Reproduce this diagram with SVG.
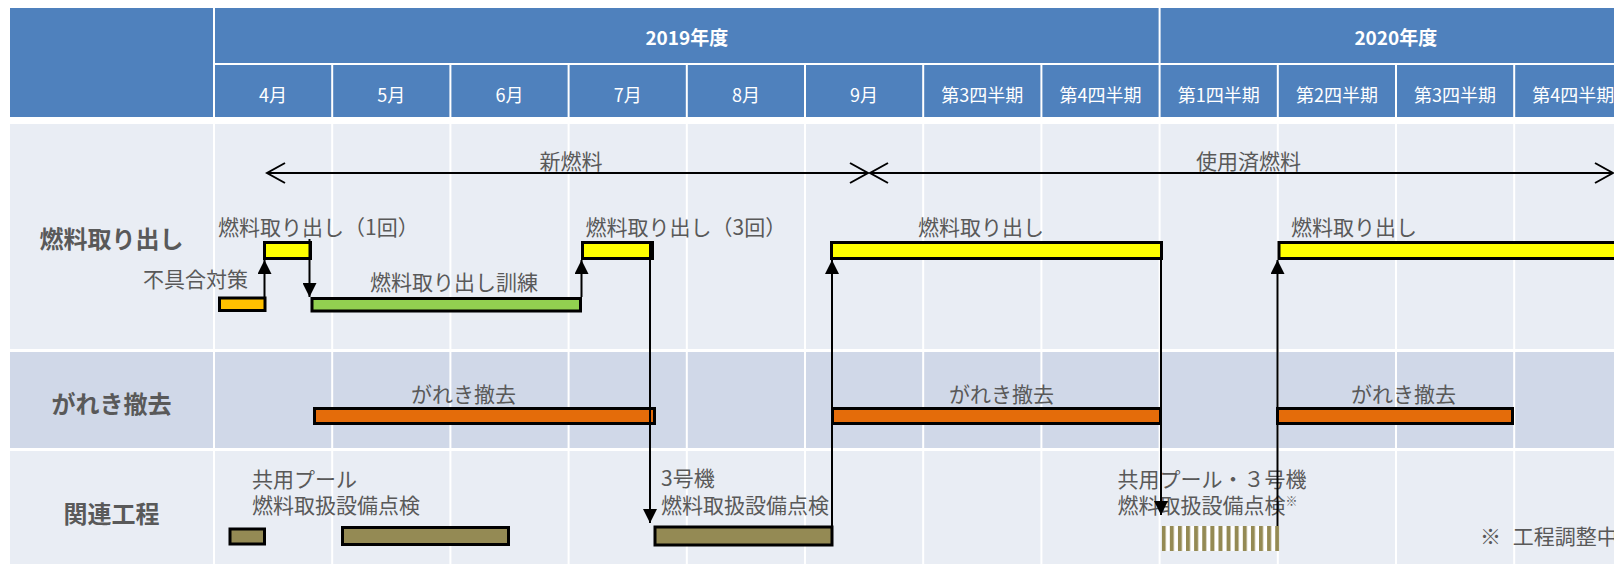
<svg xmlns="http://www.w3.org/2000/svg" width="1614" height="564" viewBox="0 0 1614 564">
<defs>
<style>
text{font-family:"Noto Sans CJK JP","Noto Sans",sans-serif;dominant-baseline:central}
.hd{fill:#fff;font-size:18px;text-anchor:middle}
.yr{fill:#fff;font-size:19px;font-weight:700;text-anchor:middle}
.rl{fill:#595959;font-size:24px;font-weight:700;text-anchor:middle}
.an{fill:#595959;font-size:21px}
.mid{text-anchor:middle}
.hb{fill:#4F81BD}
.bar{stroke:#000;stroke-width:3;stroke-linejoin:miter}
.y{fill:#FFFF00}
.o{fill:#E46C0A}
.ol{fill:#948A54}
.cn{stroke:#000;stroke-width:2;fill:none}
</style>
<marker id="tri" markerUnits="userSpaceOnUse" markerWidth="14" markerHeight="14" viewBox="0 0 14 14" refX="14" refY="7" orient="auto">
<path d="M0,0 L14,7 L0,14 Z" fill="#000"/>
</marker>
<marker id="chev" markerUnits="userSpaceOnUse" markerWidth="22" markerHeight="24" viewBox="0 0 22 24" refX="20" refY="12" orient="auto-start-reverse">
<path d="M2,2 L20,12 L2,22" fill="none" stroke="#000" stroke-width="2"/>
</marker>
<pattern id="hatch" patternUnits="userSpaceOnUse" x="1161.7" y="0" width="8.11" height="10">
<rect width="8.11" height="10" fill="#fff"/>
<rect width="4" height="10" fill="#948A54"/>
</pattern>
</defs>
<rect width="1614" height="564" fill="#fff"/>
<g id="grid">
<rect class="hb" x="10" y="8" width="203" height="109"/>
<rect class="hb" x="215" y="8" width="943.6" height="55"/>
<rect class="hb" x="1160.6" y="8" width="460" height="55"/>
<rect class="hb" x="215" y="65" width="116.2" height="52"/>
<rect class="hb" x="333.2" y="65" width="116.2" height="52"/>
<rect class="hb" x="451.4" y="65" width="116.2" height="52"/>
<rect class="hb" x="569.6" y="65" width="116.2" height="52"/>
<rect class="hb" x="687.8" y="65" width="116.2" height="52"/>
<rect class="hb" x="806" y="65" width="116.2" height="52"/>
<rect class="hb" x="924.2" y="65" width="116.2" height="52"/>
<rect class="hb" x="1042.4" y="65" width="116.2" height="52"/>
<rect class="hb" x="1160.6" y="65" width="116.2" height="52"/>
<rect class="hb" x="1278.8" y="65" width="116.2" height="52"/>
<rect class="hb" x="1397" y="65" width="116.2" height="52"/>
<rect class="hb" x="1515.2" y="65" width="116.2" height="52"/>
<rect x="10" y="124" width="1604" height="225" fill="#E9EDF4"/>
<rect x="10" y="352" width="1604" height="96" fill="#D0D8E8"/>
<rect x="10" y="451" width="1604" height="113" fill="#E9EDF4"/>
<path d="M214,124V564M332.2,124V564M450.4,124V564M568.6,124V564M686.8,124V564M805,124V564M923.2,124V564M1041.4,124V564M1159.6,124V564M1277.8,124V564M1396,124V564M1514.2,124V564" stroke="#fff" stroke-width="2"/>
<text class="yr" x="686.8" y="36.5">2019年度</text>
<text class="yr" x="1395.8" y="36.5">2020年度</text>
<text class="hd" x="273.1" y="93.5">4月</text>
<text class="hd" x="391.3" y="93.5">5月</text>
<text class="hd" x="509.5" y="93.5">6月</text>
<text class="hd" x="627.7" y="93.5">7月</text>
<text class="hd" x="745.9" y="93.5">8月</text>
<text class="hd" x="864.1" y="93.5">9月</text>
<text class="hd" x="982.3" y="93.5">第3四半期</text>
<text class="hd" x="1100.5" y="93.5">第4四半期</text>
<text class="hd" x="1218.7" y="93.5">第1四半期</text>
<text class="hd" x="1336.9" y="93.5">第2四半期</text>
<text class="hd" x="1455.1" y="93.5">第3四半期</text>
<text class="hd" x="1573.3" y="93.5">第4四半期</text>
<text class="rl" x="111.5" y="237">燃料取り出し</text>
<text class="rl" x="111.5" y="402">がれき撤去</text>
<text class="rl" x="111.5" y="512">関連工程</text>
</g>
<g id="period-new">
<text class="an mid" x="571" y="159.5">新燃料</text>
</g>
<g id="period-spent">
<text class="an" x="1196" y="159.5">使用済燃料</text>
</g>
<g id="fix">
<rect class="bar" x="219.5" y="298" width="45.5" height="12.5" fill="#FFC000"/>
<text class="an" x="143" y="278">不具合対策</text>
</g>
<g id="removal1">
<rect class="bar y" x="264.5" y="242.5" width="46" height="16"/>
<text class="an" x="218" y="225.5">燃料取り出し（1回）</text>
</g>
<g id="training">
<rect class="bar" x="312" y="298.5" width="268.5" height="12.5" fill="#92D050"/>
<text class="an" x="370" y="281">燃料取り出し訓練</text>
</g>
<g id="removal3">
<rect class="bar y" x="582.5" y="242.5" width="70" height="16"/>
<text class="an" x="585.5" y="225.5">燃料取り出し（3回）</text>
</g>
<g id="removal-a">
<rect class="bar y" x="831.5" y="242.5" width="330" height="16"/>
<text class="an" x="918" y="225.5">燃料取り出し</text>
</g>
<g id="removal-b">
<rect class="bar y" x="1279" y="242.5" width="340" height="16"/>
<text class="an" x="1291" y="225.5">燃料取り出し</text>
</g>
<g id="rubble1">
<rect class="bar o" x="314.5" y="408.5" width="340" height="15"/>
<text class="an mid" x="463.5" y="393">がれき撤去</text>
</g>
<g id="rubble2">
<rect class="bar o" x="832.5" y="408.5" width="328" height="15"/>
<text class="an mid" x="1001.5" y="393">がれき撤去</text>
</g>
<g id="rubble3">
<rect class="bar o" x="1277.5" y="408.5" width="235" height="15"/>
<text class="an mid" x="1403.5" y="393">がれき撤去</text>
</g>
<g id="pool-check">
<rect class="bar ol" x="230" y="529" width="34.5" height="15"/>
<rect class="bar ol" x="342.5" y="527.5" width="166" height="17"/>
<text class="an"><tspan x="252" y="477.5">共用プール</tspan><tspan x="252" y="504">燃料取扱設備点検</tspan></text>
</g>
<g id="unit3-check">
<rect class="bar ol" x="655" y="527" width="177" height="18"/>
<text class="an"><tspan x="661" y="477">3号機</tspan><tspan x="661" y="504">燃料取扱設備点検</tspan></text>
</g>
<g id="joint-check">
<rect x="1161.7" y="526" width="117.6" height="25" fill="url(#hatch)"/>
<text class="an"><tspan x="1117.5" y="477.5">共用プール・３号機</tspan><tspan x="1117.5" y="504">燃料取扱設備点検</tspan><tspan font-size="12" dy="-4">※</tspan></text>
</g>
<g id="note">
<text class="an" x="1480" y="535" word-spacing="7">※ 工程調整中</text>
</g>
<g id="connectors">
<path class="cn" d="M267,173 H868" marker-start="url(#chev)" marker-end="url(#chev)"/>
<path class="cn" d="M870,173 H1613" marker-start="url(#chev)" marker-end="url(#chev)"/>
<path class="cn" d="M264.5,297 V260" marker-end="url(#tri)"/>
<path class="cn" d="M309.5,239 V297" marker-end="url(#tri)"/>
<path class="cn" d="M581.5,297 V260" marker-end="url(#tri)"/>
<path class="cn" d="M650,243 V523" marker-end="url(#tri)"/>
<path class="cn" d="M832,526 V260" marker-end="url(#tri)"/>
<path class="cn" d="M1161,243 V515" marker-end="url(#tri)"/>
<path class="cn" d="M1277.5,526 V260" marker-end="url(#tri)"/>
</g>
</svg>
